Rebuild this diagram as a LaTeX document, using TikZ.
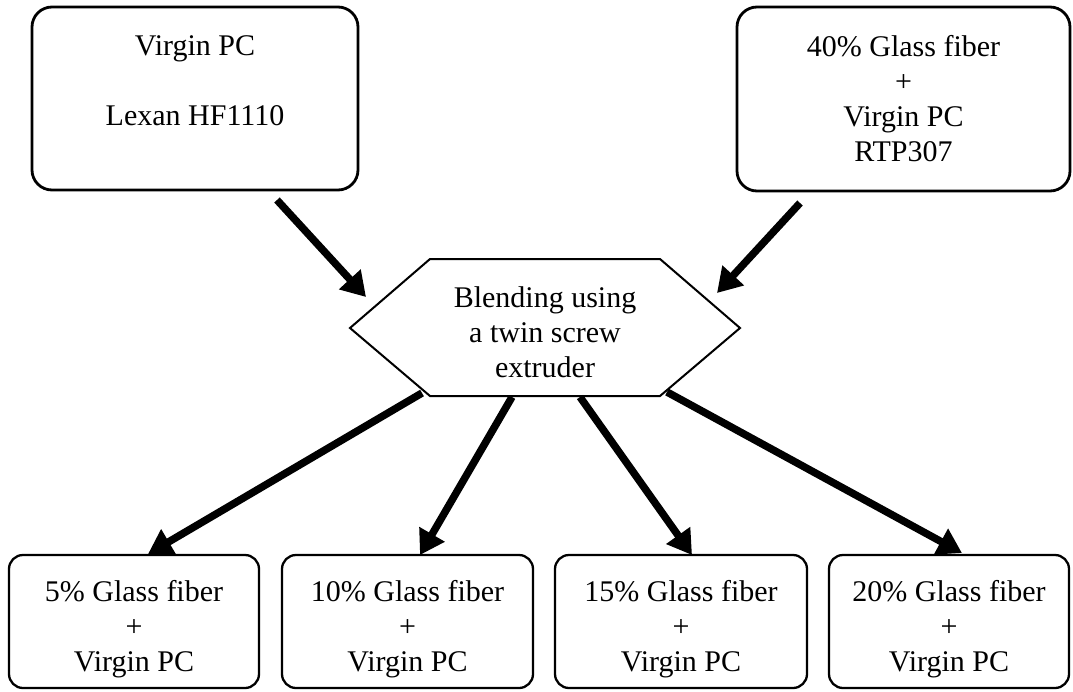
\documentclass[tikz,border=0pt]{standalone}
\usepackage{fontspec}
\setmainfont{Liberation Serif}
\usetikzlibrary{arrows.meta}
\newcommand{\lowerstrut}{\rule{0pt}{37pt}}
\begin{document}
\begin{tikzpicture}[x=1pt,y=-1pt,
  every node/.style={font=\fontsize{30}{35}\selectfont, align=center, inner sep=0pt},
  topbox/.style={draw, line width=2.8pt, rounded corners=20pt},
  botbox/.style={draw, line width=2.3pt, rounded corners=14pt},
  arr/.style={line width=7.5pt, -{Triangle[length=24pt,width=28pt]}},
  hexline/.style={line width=2pt, line join=miter}]
\useasboundingbox (0,0) rectangle (1073,691);

% top boxes
\node[topbox, minimum width=326pt, minimum height=183pt] (pc) at (195,98.5)
  {Virgin PC\\ \mbox{}\\Lexan HF1110\\ \mbox{}};
\node[topbox, minimum width=333pt, minimum height=184pt] (gf) at (903.5,99)
  {40\% Glass fiber\\+\\Virgin PC\\RTP307};

% hexagon
\node (blend) at (545,332) {Blending using\\a twin screw\\extruder};
\coordinate (h1) at (350,328);
\coordinate (h2) at (430,259);
\coordinate (h3) at (660,259);
\coordinate (h4) at (740,328);
\coordinate (h5) at (660,396);
\coordinate (h6) at (430,396);
\draw[hexline] (h1) -- (h2) -- (h3) -- (h4) -- (h5) -- (h6) -- cycle;

% bottom boxes
\node[botbox, minimum width=250pt, minimum height=133pt] (b5) at (134,621.5)
  {\lowerstrut 5\% Glass fiber\\+\\Virgin PC};
\node[botbox, minimum width=251pt, minimum height=133pt] (b10) at (407.5,621.5)
  {\lowerstrut 10\% Glass fiber\\+\\Virgin PC};
\node[botbox, minimum width=252pt, minimum height=133pt] (b15) at (681,621.5)
  {\lowerstrut 15\% Glass fiber\\+\\Virgin PC};
\node[botbox, minimum width=240pt, minimum height=133pt] (b20) at (949,621.5)
  {\lowerstrut 20\% Glass fiber\\+\\Virgin PC};

% arrow end points
\coordinate (s1) at (277,200);  \coordinate (e1) at (366,297);
\coordinate (s2) at (800,203);  \coordinate (e2) at (717,293);
\coordinate (s3) at (422,393);  \coordinate (e3) at (148,554);
\coordinate (s4) at (512,397);  \coordinate (e4) at (420,555);
\coordinate (s5) at (580,397);  \coordinate (e5) at (692,555);
\coordinate (s6) at (667,392);  \coordinate (e6) at (962,553);

\draw[arr] (s1) -- (e1);
\draw[arr] (s2) -- (e2);
\draw[arr] (s3) -- (e3);
\draw[arr] (s4) -- (e4);
\draw[arr] (s5) -- (e5);
\draw[arr] (s6) -- (e6);
\end{tikzpicture}
\end{document}
